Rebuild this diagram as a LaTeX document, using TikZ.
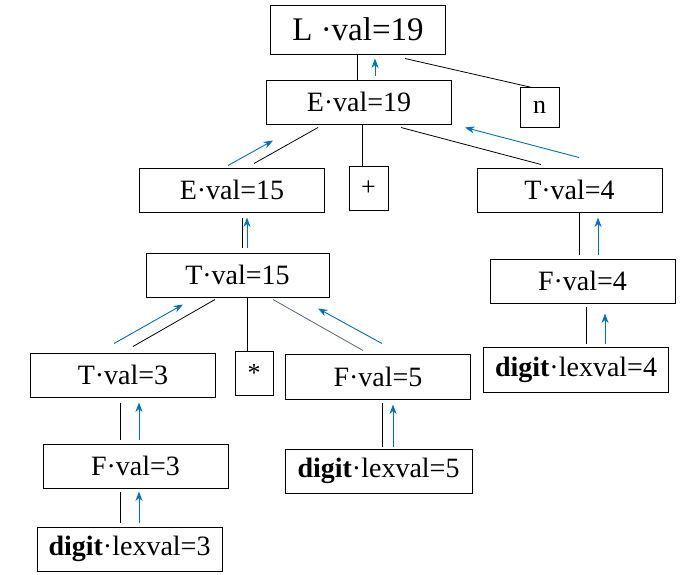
\documentclass[tikz,border=0pt]{standalone}
\usepackage{fontspec}
\setmainfont{Liberation Serif}
\usetikzlibrary{arrows.meta}
\definecolor{upblue}{RGB}{0,112,192}
\definecolor{slate}{RGB}{90,100,120}
\begin{document}
\begin{tikzpicture}[x=1pt,y=-1pt,attr/.style={draw,line width=1pt,minimum width=185pt,minimum height=44pt,inner sep=0pt,font=\fontsize{28}{30}\selectfont},tok/.style={draw,line width=1pt,minimum width=39pt,minimum height=44pt,inner sep=0pt,font=\fontsize{26}{28}\selectfont},up/.style={-{Stealth[length=9.5pt,width=7pt,inset=3pt]},upblue,line width=0.9pt},tree/.style={line width=0.8pt}]
    \useasboundingbox (0,0) rectangle (690,574);
    \node (L) at (358,29.5) [attr,minimum width=175pt,minimum height=49pt,font=\fontsize{33}{36}\selectfont] {L ·val=19};
    \node (E19) at (359,102) [attr] {E·val=19}; \node (n) at (539.5,107) [tok,minimum height=40pt] {n};
    \node (E15) at (232,190) [attr] {E·val=15}; \node (plus) at (368.5,188) [tok] {+}; \node (T4) at (569.5,190) [attr] {T·val=4};
    \node (T15) at (237.5,275) [attr,minimum width=183pt] {T·val=15}; \node (F4) at (582.5,281) [attr] {F·val=4};
    \node (T3) at (123,375) [attr] {T·val=3}; \node (star) at (254,373) [tok,minimum width=38pt] {*}; \node (F5) at (378,376.5) [attr,minimum height=45pt] {F·val=5};
    \node (dig4) at (576,369.5) [attr,minimum height=45pt] {\textbf{digit}·lexval=4};
    \node (F3) at (135.5,466) [attr] {F·val=3}; \node (dig5) at (378.5,471) [attr,minimum width=187pt] {\textbf{digit}·lexval=5};
    \node (dig3) at (129.5,549) [attr] {\textbf{digit}·lexval=3};
%
    \draw [tree] ([xshift=-1pt]L.south) to ([xshift=-2pt]E19.north); \draw [up] ([xshift=16pt,yshift=4pt]E19.north) to ([xshift=17pt,yshift=-4pt]L.south);
    \draw [tree] ([xshift=47pt,yshift=-4pt]L.south) to ([xshift=-7.5pt,yshift=-1pt]n.north);
%
    \draw [tree] ([xshift=-41pt,yshift=-3pt]E19.south) to ([xshift=22pt,yshift=4pt]E15.north); \draw [up] ([xshift=-4pt,yshift=2pt]E15.north) to ([xshift=-86pt,yshift=-16pt]E19.south);
    \draw [tree] ([xshift=3pt]E19.south) to ([xshift=-6.5pt]plus.north);
    \draw [tree] ([xshift=42pt,yshift=-3pt]E19.south) to ([xshift=-28.5pt,yshift=3pt]T4.north); \draw [up] ([xshift=9.5pt,yshift=10pt]T4.north) to ([xshift=106pt,yshift=-3pt]E19.south);
%
    \draw [tree] ([xshift=10pt,yshift=-5pt]E15.south) to ([xshift=4.5pt,yshift=5pt]T15.north); \draw [up] ([xshift=9.5pt,yshift=5pt]T15.north) to ([xshift=15pt,yshift=-5pt]E15.south);
%
    \draw [tree] ([xshift=-22.5pt,yshift=-2pt]T15.south) to ([xshift=10pt,yshift=6pt]T3.north); \draw [up] ([xshift=-9pt,yshift=9pt]T3.north) to ([xshift=-54.5pt,yshift=-7pt]T15.south);
    \draw [tree] ([xshift=9.5pt]T15.south) to ([xshift=-7pt]star.north);
    \draw [tree,slate] ([xshift=35.5pt,yshift=-2pt]T15.south) to ([xshift=-15pt,yshift=3pt]F5.north); \draw [up] ([xshift=4pt,yshift=10pt]F5.north) to ([xshift=80.5pt,yshift=-11pt]T15.south);
%
    \draw [tree] ([xshift=-3pt,yshift=-5pt]T3.south) to ([xshift=-15.5pt,yshift=4pt]F3.north); \draw [up] ([xshift=3.5pt,yshift=4pt]F3.north) to ([xshift=16pt,yshift=-5pt]T3.south);
    \draw [tree] ([xshift=-15.5pt,yshift=-3pt]F3.south) to ([xshift=-9.5pt,yshift=4pt]dig3.north); \draw [up] ([xshift=9.5pt,yshift=4pt]dig3.north) to ([xshift=3.5pt,yshift=-3pt]F3.south);
%
    \draw [tree] ([xshift=4pt,yshift=-3pt]F5.south) to ([xshift=3.5pt,yshift=2pt]dig5.north); \draw [up] ([xshift=14.5pt,yshift=2pt]dig5.north) to ([xshift=15pt,yshift=-5pt]F5.south);
%
    \draw [tree] ([xshift=9.5pt]T4.south) to ([xshift=-3.5pt,yshift=4pt]F4.north); \draw [up] ([xshift=15.5pt,yshift=4pt]F4.north) to ([xshift=28.5pt,yshift=-5pt]T4.south);
    \draw [tree] ([xshift=3.5pt,yshift=-3pt]F4.south) to ([xshift=10pt,yshift=3pt]dig4.north); \draw [up] ([xshift=29pt,yshift=3pt]dig4.north) to ([xshift=22.5pt,yshift=-10pt]F4.south);
\end{tikzpicture}
\end{document}
